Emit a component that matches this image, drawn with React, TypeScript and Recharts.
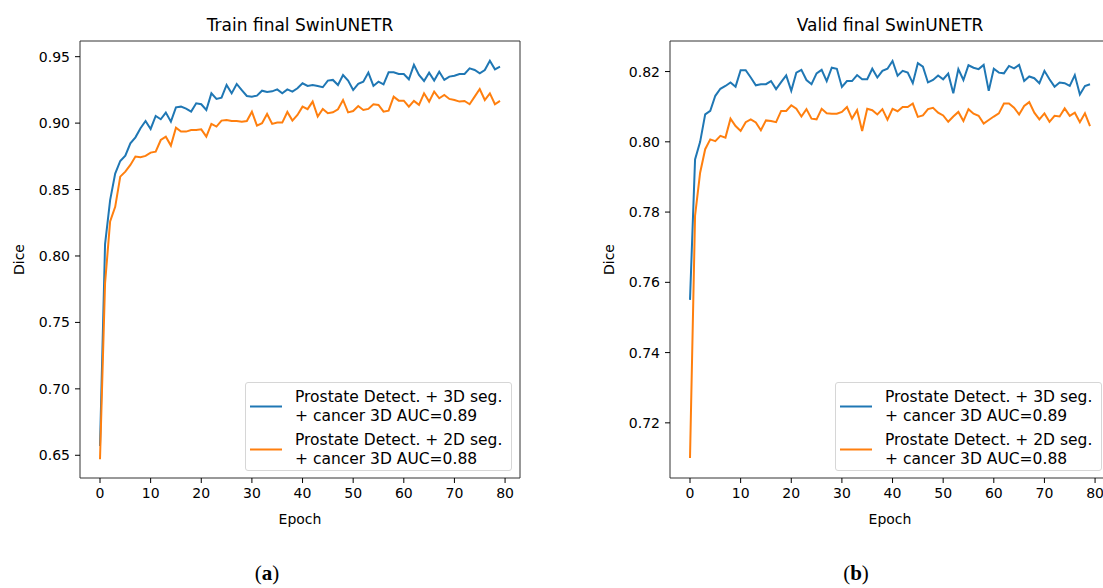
import React from 'react';
import { LineChart, Line, XAxis, YAxis, Legend } from 'recharts';

// Epoch index on the x axis
const epochs: number[] = Array.from({ length: 80 }, (_, i) => i);

// Training Dice per epoch
const trainDetect3D = [
  0.657, 0.809, 0.842, 0.862, 0.8715, 0.8755, 0.8848, 0.8893, 0.8961, 0.9016,
  0.8956, 0.9054, 0.9029, 0.9079, 0.9011, 0.9119, 0.9124, 0.9109, 0.9087, 0.9149,
  0.9142, 0.9099, 0.9224, 0.9182, 0.9192, 0.9287, 0.9224, 0.9295, 0.9249, 0.9204,
  0.9199, 0.9207, 0.9244, 0.9234, 0.9239, 0.9254, 0.9224, 0.9254, 0.9237, 0.9262,
  0.93, 0.928, 0.9287, 0.928, 0.927, 0.932, 0.9325, 0.9287, 0.9362, 0.932,
  0.9249, 0.9295, 0.9312, 0.938, 0.928, 0.9312, 0.9292, 0.9382, 0.9382, 0.937,
  0.937, 0.933, 0.9438, 0.9362, 0.9317, 0.938, 0.932, 0.9387, 0.9325, 0.935,
  0.9357, 0.937, 0.937, 0.9412, 0.94, 0.9375, 0.94, 0.947, 0.9405, 0.9425,
];
const trainDetect2D = [
  0.647, 0.7795, 0.826, 0.837, 0.8597, 0.8635, 0.8685, 0.8748, 0.8743, 0.8753,
  0.8778, 0.8785, 0.8873, 0.8898, 0.8831, 0.8966, 0.8936, 0.8936, 0.8948, 0.8948,
  0.8953, 0.8898, 0.8994, 0.8974, 0.9019, 0.9024, 0.9016, 0.9016, 0.9011, 0.9016,
  0.9086, 0.8981, 0.8999, 0.9069, 0.8994, 0.9004, 0.9004, 0.9084, 0.9019, 0.9061,
  0.9124, 0.9105, 0.9162, 0.9049, 0.9107, 0.9074, 0.9081, 0.9104, 0.9174, 0.9081,
  0.9091, 0.9129, 0.9099, 0.9107, 0.9142, 0.9137, 0.9086, 0.9094, 0.9199, 0.9169,
  0.9169, 0.9124, 0.9167, 0.9137, 0.9224, 0.9162, 0.9237, 0.9187, 0.9212, 0.9182,
  0.9174, 0.9162, 0.9167, 0.9142, 0.9199, 0.9257, 0.9174, 0.9224, 0.9142, 0.9167,
];

// Validation Dice per epoch
const validDetect3D = [
  0.755, 0.795, 0.8, 0.8078, 0.8088, 0.8131, 0.8151, 0.8159, 0.8169, 0.8157,
  0.8204, 0.8204, 0.8183, 0.8161, 0.8164, 0.8164, 0.8173, 0.815, 0.817, 0.8189,
  0.8145, 0.8197, 0.8205, 0.8176, 0.8164, 0.8195, 0.8205, 0.8173, 0.8211, 0.8208,
  0.8156, 0.8173, 0.8173, 0.819, 0.8178, 0.8178, 0.8208, 0.8183, 0.8202, 0.8208,
  0.823, 0.8188, 0.8202, 0.8197, 0.8167, 0.8224, 0.8214, 0.8169, 0.8176, 0.8189,
  0.8178, 0.8194, 0.8138, 0.8207, 0.8176, 0.8218, 0.8211, 0.8207, 0.8219, 0.8145,
  0.8208, 0.8197, 0.8195, 0.8216, 0.8209, 0.8219, 0.8173, 0.8186, 0.8181, 0.8167,
  0.8202, 0.8178, 0.8157, 0.8169, 0.8167, 0.8159, 0.819, 0.8135, 0.8159, 0.8164,
];
const validDetect2D = [
  0.71, 0.779, 0.7912, 0.7979, 0.8007, 0.8002, 0.8017, 0.8012, 0.8066, 0.8045,
  0.8031, 0.8056, 0.8064, 0.8055, 0.8033, 0.8061, 0.8059, 0.8056, 0.8088, 0.8088,
  0.8104, 0.8094, 0.8072, 0.8093, 0.8066, 0.8064, 0.8094, 0.8081, 0.808, 0.808,
  0.8085, 0.8099, 0.8066, 0.809, 0.8031, 0.8094, 0.809, 0.8078, 0.8093, 0.8063,
  0.8094, 0.8087, 0.8099, 0.8099, 0.8109, 0.8071, 0.8075, 0.8093, 0.8097, 0.8083,
  0.8075, 0.8057, 0.8072, 0.8085, 0.8059, 0.8093, 0.808, 0.8074, 0.8052, 0.8062,
  0.8072, 0.8081, 0.8109, 0.8109, 0.8097, 0.8078, 0.8102, 0.8113, 0.8083, 0.8064,
  0.8081, 0.8057, 0.8074, 0.8072, 0.8095, 0.8074, 0.8083, 0.8056, 0.8081, 0.8045,
];

const seriesNames = [
  'Prostate Detect. + 3D seg.\n+ cancer 3D AUC=0.89',
  'Prostate Detect. + 2D seg.\n+ cancer 3D AUC=0.88',
];
const seriesColors = ['#1f77b4', '#ff7f0e'];

const xTicks = [0, 10, 20, 30, 40, 50, 60, 70, 80];
const xDomain: [number, number] = [-3.95, 82.95];
const trainTicks = [0.65, 0.7, 0.75, 0.8, 0.85, 0.9, 0.95];
const trainDomain: [number, number] = [0.6329, 0.9618];
const validTicks = [0.72, 0.74, 0.76, 0.78, 0.8, 0.82];
const validDomain: [number, number] = [0.7043, 0.8287];

const FONT = '"DejaVu Sans", sans-serif';
const SPINE = '#333';
const tickStyle = { fill: '#000', fontSize: 14, fontFamily: FONT };

const TitleLabel = ({ viewBox, text }: any) => (
  <text
    x={viewBox.x + viewBox.width / 2}
    y={viewBox.y + viewBox.height - 10}
    textAnchor="middle"
    fontSize={17}
    fontFamily={FONT}
    fill="#000"
  >
    {text}
  </text>
);

const EpochLabel = ({ viewBox }: any) => (
  <text
    x={viewBox.x + viewBox.width / 2}
    y={viewBox.y + 46}
    textAnchor="middle"
    fontSize={14}
    fontFamily={FONT}
    fill="#000"
  >
    Epoch
  </text>
);

const DiceLabel = ({ viewBox }: any) => {
  const cx = viewBox.x + 24;
  const cy = viewBox.y + viewBox.height / 2;
  return (
    <text
      x={cx}
      y={cy}
      transform={`rotate(-90, ${cx}, ${cy})`}
      textAnchor="middle"
      fontSize={14}
      fontFamily={FONT}
      fill="#000"
    >
      Dice
    </text>
  );
};

const LegendBox = ({ payload }: any) => {
  const items = [...(payload || [])].sort(
    (p: any, q: any) => seriesNames.indexOf(p.value) - seriesNames.indexOf(q.value),
  );
  return (
    <div
      style={{
        width: 267,
        height: 89,
        boxSizing: 'border-box',
        background: 'rgba(255,255,255,0.8)',
        border: '1px solid #d6d6d6',
        borderRadius: 3,
        paddingTop: 2,
        fontFamily: FONT,
        fontSize: 15.5,
        color: '#000',
      }}
    >
      {items.map((item: any) => (
        <div key={item.value} style={{ display: 'flex', alignItems: 'center', height: 43 }}>
          <svg width={49} height={43} style={{ flex: 'none' }}>
            <line x1={4} x2={36} y1={21.5} y2={21.5} stroke={item.color} strokeWidth={2} />
          </svg>
          <div style={{ whiteSpace: 'pre-line', lineHeight: '19px' }}>{item.value}</div>
        </div>
      ))}
    </div>
  );
};

function Panel({ left, title, first, second, yDomain, yTicks }: any) {
  const data = epochs.map((e, i) => ({ epoch: e, first: first[i], second: second[i] }));
  return (
    <div style={{ position: 'absolute', left, top: 0 }}>
      <LineChart width={560} height={540} data={data} margin={{ top: 40, right: 39, bottom: 12, left: 0 }}>
        <XAxis
          xAxisId="x"
          dataKey="epoch"
          type="number"
          domain={xDomain}
          ticks={xTicks}
          allowDataOverflow
          height={50}
          tickSize={5}
          tickMargin={5}
          stroke={SPINE}
          tickLine={{ stroke: '#000' }}
          tick={tickStyle}
          label={<EpochLabel />}
        />
        <XAxis
          xAxisId="top"
          orientation="top"
          dataKey="epoch"
          type="number"
          domain={xDomain}
          allowDataOverflow
          height={1}
          tick={false}
          tickLine={false}
          stroke={SPINE}
          label={<TitleLabel text={title} />}
        />
        <YAxis
          yAxisId="y"
          type="number"
          domain={yDomain}
          ticks={yTicks}
          allowDataOverflow
          width={80}
          tickSize={5}
          tickMargin={5}
          stroke={SPINE}
          tickLine={{ stroke: '#000' }}
          tick={tickStyle}
          tickFormatter={(v: number) => v.toFixed(2)}
          label={<DiceLabel />}
        />
        <YAxis
          yAxisId="right"
          orientation="right"
          type="number"
          domain={yDomain}
          allowDataOverflow
          width={1}
          tick={false}
          tickLine={false}
          stroke={SPINE}
        />
        <Legend
          layout="vertical"
          align="center"
          verticalAlign="middle"
          content={<LegendBox />}
          wrapperStyle={{ left: 245, top: 382, right: 'auto', bottom: 'auto', width: 267, height: 89 }}
        />
        <Line
          xAxisId="x"
          yAxisId="y"
          type="linear"
          dataKey="first"
          name={seriesNames[0]}
          stroke={seriesColors[0]}
          strokeWidth={2}
          dot={false}
          isAnimationActive={false}
        />
        <Line
          xAxisId="x"
          yAxisId="y"
          type="linear"
          dataKey="second"
          name={seriesNames[1]}
          stroke={seriesColors[1]}
          strokeWidth={2}
          dot={false}
          isAnimationActive={false}
        />
      </LineChart>
    </div>
  );
}

const captionStyle: React.CSSProperties = {
  position: 'absolute',
  top: 561,
  fontFamily: '"Liberation Serif", serif',
  fontSize: 21,
  color: '#000',
  transform: 'translateX(-50%)',
  whiteSpace: 'nowrap',
};

export default function App() {
  return (
    <div
      style={{
        position: 'fixed',
        left: 0,
        top: 0,
        width: 1103,
        height: 588,
        overflow: 'hidden',
        background: '#fff',
      }}
    >
      <Panel
        left={0}
        title="Train final SwinUNETR"
        first={trainDetect3D}
        second={trainDetect2D}
        yDomain={trainDomain}
        yTicks={trainTicks}
      />
      <Panel
        left={590}
        title="Valid final SwinUNETR"
        first={validDetect3D}
        second={validDetect2D}
        yDomain={validDomain}
        yTicks={validTicks}
      />
      <div style={{ ...captionStyle, left: 267 }}>
        (<b>a</b>)
      </div>
      <div style={{ ...captionStyle, left: 856 }}>
        (<b>b</b>)
      </div>
    </div>
  );
}
